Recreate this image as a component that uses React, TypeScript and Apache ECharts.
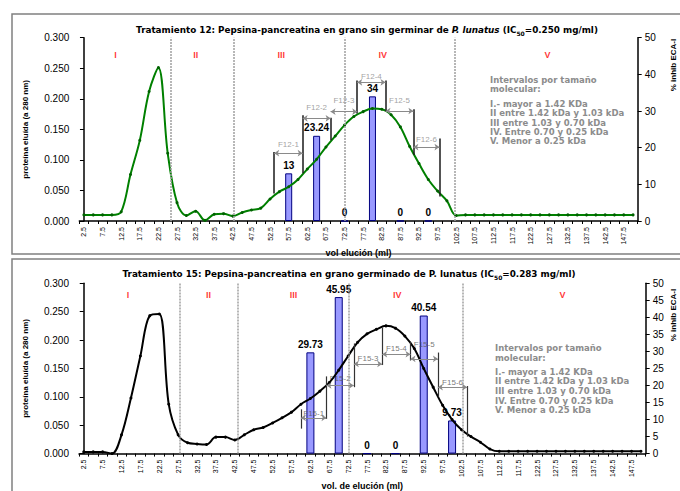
import React, { useEffect, useRef } from "react";
import * as echarts from "echarts";

const volumes = [
  "2.5", "5.0", "7.5", "10.0", "12.5", "15.0", "17.5", "20.0", "22.5", "25.0",
  "27.5", "30.0", "32.5", "35.0", "37.5", "40.0", "42.5", "45.0", "47.5", "50.0",
  "52.5", "55.0", "57.5", "60.0", "62.5", "65.0", "67.5", "70.0", "72.5", "75.0",
  "77.5", "80.0", "82.5", "85.0", "87.5", "90.0", "92.5", "95.0", "97.5", "100.0",
  "102.5", "105.0", "107.5", "110.0", "112.5", "115.0", "117.5", "120.0", "122.5", "125.0",
  "127.5", "130.0", "132.5", "135.0", "137.5", "140.0", "142.5", "145.0", "147.5", "150.0",
];

// Tratamiento 12 – absorbance at 280 nm
const elution12 = [
  0.010, 0.010, 0.010, 0.010, 0.015, 0.076, 0.132, 0.212, 0.251, 0.111,
  0.030, 0.009, 0.016, 0.001, 0.011, 0.012, 0.008, 0.014, 0.018, 0.021,
  0.036, 0.048, 0.056, 0.068, 0.085, 0.101, 0.121, 0.139, 0.157, 0.171,
  0.179, 0.184, 0.183, 0.174, 0.154, 0.122, 0.094, 0.068, 0.049, 0.033,
  0.009, 0.010, 0.010, 0.010, 0.010, 0.010, 0.010, 0.010, 0.010, 0.010,
  0.010, 0.010, 0.010, 0.010, 0.010, 0.010, 0.010, 0.010, 0.010, 0.010,
];

// Tratamiento 15 – absorbance at 280 nm
const elution15 = [
  0.003, 0.003, 0.003, 0.000, 0.033, 0.098, 0.172, 0.243, 0.246, 0.087,
  0.033, 0.019, 0.017, 0.016, 0.029, 0.029, 0.024, 0.033, 0.042, 0.046,
  0.054, 0.063, 0.073, 0.087, 0.097, 0.110, 0.125, 0.147, 0.172, 0.196,
  0.211, 0.219, 0.225, 0.221, 0.207, 0.185, 0.150, 0.117, 0.085, 0.060,
  0.042, 0.030, 0.020, 0.008, 0.004, 0.004, 0.004, 0.004, 0.004, 0.004,
  0.004, 0.004, 0.004, 0.004, 0.004, 0.004, 0.004, 0.004, 0.004, 0.004,
];

// % inhibición ECA-I per fraction
const barVolumes12 = ["57.5", "65.0", "72.5", "80.0", "87.5", "95.0"];
const inhib12 = [13, 23.24, 0, 34, 0, 0];
const barVolumes15 = ["62.5", "70.0", "77.5", "85.0", "92.5", "100.0"];
const inhib15 = [29.73, 45.95, 0, 0, 40.54, 9.73];

// zones (ml)
const zoneNames = ["I", "II", "III", "IV", "V"];
const zoneLabelMl12 = [11, 32.5, 55.5, 82.75, 127];
const zoneLabelMl15 = [14.25, 35.5, 58, 85.5, 129.25];
const dividerMl12 = [25.75, 42.75, 72.5, 102];
const dividerMl15 = [28, 43.25, 72.75, 102.75];

// fraction brackets
const fractionNames12 = ["F12-1", "F12-2", "F12-3", "F12-4", "F12-5", "F12-6"];
const boundMl12 = [53.6, 61.25, 68.75, 75.9, 83.5, 91, 98];
const boundLow12 = [0.045, 0.078, 0.132, 0.176, 0.179, 0.108, 0.04];
const boundHigh12 = [0.113, 0.173, 0.169, 0.23, 0.23, 0.183, 0.135];
const arrowLevel12 = [0.111, 0.168, 0.179, 0.227, 0.18, 0.121];
const labelLevel12 = [0.125, 0.186, 0.198, 0.236, 0.197, 0.134];

const fractionNames15 = ["F15-1", "F15-2", "F15-3", "F15-4", "F15-5", "F15-6"];
const boundMl15 = [60, 66.75, 74, 81.5, 89, 96.25, 104];
const boundLow15 = [0.044, 0.061, 0.117, 0.156, 0.164, 0.1, 0.03];
const boundHigh15 = [0.078, 0.136, 0.194, 0.222, 0.197, 0.178, 0.119];
const arrowLevel15 = [0.063, 0.12, 0.158, 0.175, 0.167, 0.117];
const labelLevel15 = [0.071, 0.132, 0.167, 0.185, 0.193, 0.125];

const legendHead = "Intervalos por tamaño\nmolecular:";
const legendBody =
  "I.- mayor a 1.42 KDa\nII entre 1.42 kDa y 1.03 kDa\nIII entre 1.03 y 0.70 kDa\nIV. Entre 0.70 y 0.25 kDa\nV. Menor a 0.25 kDa";

const FONT = "'Liberation Sans', Arial, sans-serif";
const WIDE = "'DejaVu Sans', 'Liberation Sans', sans-serif";
const idx = (ml: number) => ml / 2.5 - 1;

function buildSeries(g: number, cfg: any) {
  const xCat = g * 2;
  const xVal = g * 2 + 1;
  const yL = g * 2;
  const yR = g * 2 + 1;
  const barData = volumes.map((v) => {
    const k = cfg.barVolumes.indexOf(v);
    return k >= 0 ? cfg.inhib[k] : null;
  });
  const n = cfg.names.length;
  const verticals = cfg.boundMl.map((ml: number, k: number) => [
    { coord: [idx(ml), cfg.low[k]] },
    { coord: [idx(ml), cfg.high[k]] },
  ]);
  const arrows = [];
  const labels = [];
  for (let k = 0; k < n; k++) {
    arrows.push([
      { coord: [idx(cfg.boundMl[k]), cfg.arrow[k]] },
      { coord: [idx(cfg.boundMl[k + 1]), cfg.arrow[k]] },
    ]);
    labels.push({
      value: [(idx(cfg.boundMl[k]) + idx(cfg.boundMl[k + 1])) / 2, cfg.label[k]],
      label: { show: true, formatter: cfg.names[k] },
    });
  }
  return [
    {
      type: "bar",
      xAxisIndex: xCat,
      yAxisIndex: yR,
      data: barData,
      barWidth: cfg.barWidth,
      itemStyle: { color: "#9999FF", borderColor: "#000080", borderWidth: 1 },
      label: {
        show: true,
        position: "top",
        distance: 3,
        color: "#000",
        fontWeight: "bold",
        fontSize: 10,
        fontFamily: FONT,
        formatter: (p: any) => String(p.value),
      },
    },
    {
      type: "line",
      xAxisIndex: xCat,
      yAxisIndex: yL,
      data: cfg.elution,
      smooth: 0.35,
      symbol: "circle",
      symbolSize: 3,
      showSymbol: true,
      showAllSymbol: true,
      itemStyle: { color: cfg.markColor },
      lineStyle: { color: cfg.color, width: 2 },
    },
    {
      type: "scatter",
      xAxisIndex: xVal,
      yAxisIndex: yL,
      symbolSize: 0,
      data: [],
      markLine: {
        silent: true,
        symbol: "none",
        label: { show: false },
        lineStyle: { color: "#a0a0a0", type: [2, 1], width: 1.5 },
        data: cfg.dividers.map((ml: number) => ({ xAxis: idx(ml) })),
      },
    },
    {
      type: "scatter",
      xAxisIndex: xVal,
      yAxisIndex: yL,
      symbolSize: 0,
      data: [],
      markLine: {
        silent: true,
        symbol: "none",
        label: { show: false },
        lineStyle: { color: cfg.vColor, type: "solid", width: cfg.vWidth },
        data: verticals,
      },
    },
    {
      type: "scatter",
      xAxisIndex: xVal,
      yAxisIndex: yL,
      symbolSize: 0,
      data: labels,
      label: {
        show: true,
        position: "inside",
        color: cfg.fColor,
        fontSize: 8,
        fontFamily: FONT,
      },
      markLine: {
        silent: true,
        symbol: ["arrow", "arrow"],
        symbolSize: 5,
        label: { show: false },
        lineStyle: { color: "#8a8a8a", type: "solid", width: 1 },
        data: arrows,
      },
    },
    {
      type: "scatter",
      xAxisIndex: xVal,
      yAxisIndex: yL,
      symbolSize: 0,
      data: cfg.zoneMl.map((ml: number, k: number) => ({
        value: [idx(ml), cfg.zoneY],
        label: { show: true, formatter: zoneNames[k] },
      })),
      label: {
        show: true,
        position: "inside",
        color: "#FF0000",
        fontWeight: "bold",
        fontSize: 9,
        fontFamily: FONT,
      },
    },
  ];
}

function axesFor(g: number, xName: string, rightInterval: number) {
  const xAxes = [
    {
      type: "category",
      gridIndex: g,
      data: volumes,
      boundaryGap: true,
      axisLine: { lineStyle: { color: "#000", width: 1.5 } },
      axisTick: { show: true, interval: 0, length: 3, lineStyle: { color: "#000" } },
      axisLabel: {
        interval: 1,
        rotate: 90,
        fontSize: 7,
        color: "#000",
        margin: 6,
        fontFamily: FONT,
      },
      name: xName,
      nameLocation: "middle",
      nameGap: 25,
      nameTextStyle: { fontWeight: "bold", fontSize: 9, color: "#000", fontFamily: FONT },
    },
    { type: "value", gridIndex: g, min: -0.5, max: 59.5, show: false },
  ];
  const yAxes = [
    {
      type: "value",
      gridIndex: g,
      min: 0,
      max: 0.3,
      interval: 0.05,
      splitLine: { show: false },
      axisLine: { show: true, lineStyle: { color: "#000", width: 1.5 } },
      axisTick: { show: true, length: 4, lineStyle: { color: "#000" } },
      axisLabel: {
        formatter: (v: number) => v.toFixed(3),
        fontSize: 10,
        color: "#000",
        margin: 10,
        fontFamily: FONT,
      },
      name: "proteína eluída (a 280 nm)",
      nameLocation: "middle",
      nameGap: 50,
      nameTextStyle: { fontWeight: "bold", fontSize: 8, color: "#000", fontFamily: FONT },
    },
    {
      type: "value",
      gridIndex: g,
      position: "right",
      min: 0,
      max: 50,
      interval: rightInterval,
      splitLine: { show: false },
      axisLine: { show: true, lineStyle: { color: "#000", width: 1.5 } },
      axisTick: { show: true, length: 4, lineStyle: { color: "#000" } },
      axisLabel: { fontSize: 10, color: "#000", margin: 7, fontFamily: FONT },
    },
  ];
  return { xAxes, yAxes };
}

export default function App() {
  const ref = useRef<HTMLDivElement>(null);
  useEffect(() => {
    if (!ref.current) return;
    const chart = echarts.init(ref.current, null, { renderer: "svg" });
    const a1 = axesFor(0, "vol elución (ml)", 10);
    const a2 = axesFor(1, "vol. de elución (ml)", 5);
    const s1 = buildSeries(0, {
      barVolumes: barVolumes12,
      inhib: inhib12,
      elution: elution12,
      color: "#008000",
      markColor: "#006000",
      barWidth: 7,
      names: fractionNames12,
      boundMl: boundMl12,
      low: boundLow12,
      high: boundHigh12,
      arrow: arrowLevel12,
      label: labelLevel12,
      dividers: dividerMl12,
      zoneMl: zoneLabelMl12,
      zoneY: 0.271,
      vColor: "#1a1a1a",
      vWidth: 1.5,
      fColor: "#8a8a8a",
    });
    const s2 = buildSeries(1, {
      barVolumes: barVolumes15,
      inhib: inhib15,
      elution: elution15,
      color: "#000000",
      markColor: "#000000",
      barWidth: 8,
      names: fractionNames15,
      boundMl: boundMl15,
      low: boundLow15,
      high: boundHigh15,
      arrow: arrowLevel15,
      label: labelLevel15,
      dividers: dividerMl15,
      zoneMl: zoneLabelMl15,
      zoneY: 0.28,
      vColor: "#333333",
      vWidth: 1.2,
      fColor: "#555555",
    });
    const titleRich = {
      b: { fontSize: 8.8, fontWeight: "bold", color: "#000", fontFamily: WIDE, lineHeight: 12 },
      i: { fontSize: 8.8, fontWeight: "bold", fontStyle: "italic", color: "#000", fontFamily: WIDE, lineHeight: 12 },
      s: { fontSize: 6, fontWeight: "bold", color: "#000", fontFamily: WIDE, verticalAlign: "bottom", lineHeight: 10 },
    };
    const legendStyle = { fontSize: 8.5, fontWeight: "bold", fontFamily: WIDE, fill: "#8c8c8c" };
    chart.setOption({
      animation: false,
      textStyle: { fontFamily: FONT },
      title: [
        {
          left: 362,
          top: 19,
          textAlign: "center",
          text: "{b|Tratamiento 12: Pepsina-pancreatina en grano sin germinar de }{i|P. lunatus}{b| (IC}{s|50}{b|=0.250 mg/ml)}",
          textStyle: { rich: titleRich },
        },
        {
          left: 344,
          top: 263,
          textAlign: "center",
          text: "{b|Tratamiento 15: Pepsina-pancreatina en grano germinado de P. lunatus (IC}{s|50}{b|=0.283 mg/ml)}",
          textStyle: { rich: titleRich },
        },
      ],
      grid: [
        { left: 79.3, right: 42.3, top: 37.7, bottom: 270, containLabel: false },
        { left: 79, right: 34.3, top: 283.3, bottom: 27.7, containLabel: false },
      ],
      xAxis: [...a1.xAxes, ...a2.xAxes],
      yAxis: [...a1.yAxes, ...a2.yAxes],
      series: [...s1, ...s2],
      graphic: [
        {
          type: "rect",
          shape: { x: 12, y: 14, width: 700, height: 240 },
          style: { fill: "none", stroke: "#808080", lineWidth: 1.5 },
          silent: true,
        },
        {
          type: "rect",
          shape: { x: 12, y: 259, width: 700, height: 300 },
          style: { fill: "none", stroke: "#808080", lineWidth: 1.5 },
          silent: true,
        },
        {
          type: "text",
          x: 673,
          y: 65,
          rotation: Math.PI / 2,
          style: {
            text: "% inhib ECA-I",
            fontSize: 8,
            fontWeight: "bold",
            fontFamily: FONT,
            fill: "#000",
            align: "center",
            verticalAlign: "middle",
          },
        },
        {
          type: "text",
          x: 673,
          y: 315,
          rotation: Math.PI / 2,
          style: {
            text: "% inhib ECA-I",
            fontSize: 8,
            fontWeight: "bold",
            fontFamily: FONT,
            fill: "#000",
            align: "center",
            verticalAlign: "middle",
          },
        },
        { type: "text", x: 490, y: 75.5, style: { ...legendStyle, text: legendHead, lineHeight: 9.3 } },
        { type: "text", x: 490, y: 99.5, style: { ...legendStyle, text: legendBody, lineHeight: 9.2 } },
        { type: "text", x: 495, y: 342.7, style: { ...legendStyle, text: legendHead, lineHeight: 10 } },
        { type: "text", x: 495, y: 366.7, style: { ...legendStyle, text: legendBody, lineHeight: 9.7 } },
      ],
    });
    return () => chart.dispose();
  }, []);
  return (
    <div
      ref={ref}
      style={{ position: "absolute", left: 0, top: 0, width: 680, height: 491, background: "#fff" }}
    />
  );
}
